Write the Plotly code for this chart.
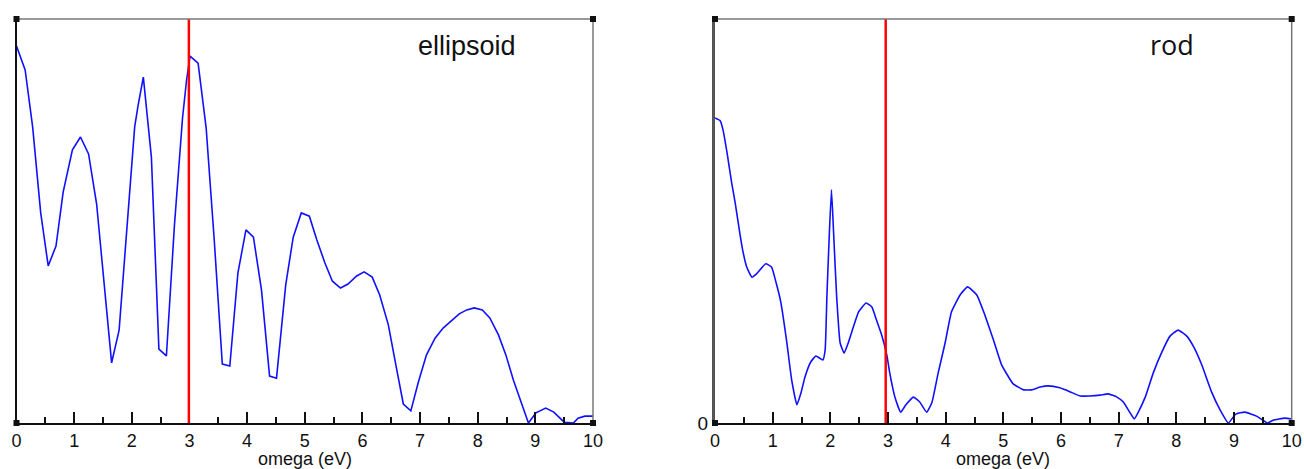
import plotly.graph_objects as go

# ---- data: ellipsoid ----
ell_x = [0, 0.15, 0.28, 0.42, 0.55, 0.685, 0.81, 0.97, 1.11, 1.25, 1.39, 1.52, 1.65, 1.78, 1.92,
         2.05, 2.11, 2.2, 2.34, 2.47, 2.6, 2.74, 2.88, 2.95, 3.01, 3.15, 3.29, 3.43, 3.57, 3.7,
         3.84, 3.98, 4.11, 4.25, 4.39, 4.51, 4.67, 4.8, 4.94, 5.08, 5.21, 5.35, 5.48, 5.62, 5.75,
         5.9, 6.03, 6.17, 6.3, 6.45, 6.58, 6.71, 6.84, 6.97, 7.11, 7.26, 7.4, 7.55, 7.68, 7.81,
         7.94, 8.08, 8.21, 8.36, 8.49, 8.62, 8.75, 8.88, 9.01, 9.18, 9.32, 9.5, 9.66, 9.74, 9.86, 10]
ell_y = [0.933, 0.874, 0.733, 0.520, 0.389, 0.438, 0.572, 0.676, 0.708, 0.666, 0.542, 0.347, 0.149,
         0.230, 0.483, 0.733, 0.787, 0.856, 0.658, 0.183, 0.166, 0.490, 0.755, 0.849, 0.908, 0.891,
         0.730, 0.453, 0.146, 0.141, 0.371, 0.478, 0.460, 0.329, 0.116, 0.111, 0.342, 0.460, 0.520,
         0.512, 0.453, 0.396, 0.351, 0.334, 0.344, 0.364, 0.374, 0.361, 0.317, 0.243, 0.144, 0.047,
         0.030, 0.101, 0.168, 0.210, 0.235, 0.255, 0.270, 0.280, 0.285, 0.280, 0.260, 0.218, 0.168,
         0.106, 0.052, 0.0, 0.025, 0.037, 0.027, 0.002, 0.0, 0.012, 0.017, 0.017]

# ---- data: rod ----
rod_x = [0, 0.09, 0.14, 0.21, 0.29, 0.35, 0.43, 0.48, 0.55, 0.64, 0.72, 0.88, 0.98, 1.06, 1.14,
         1.24, 1.33, 1.42, 1.49, 1.56, 1.66, 1.75, 1.87, 1.91, 1.94, 1.98, 2.02, 2.06, 2.11, 2.17,
         2.24, 2.31, 2.4, 2.49, 2.62, 2.72, 2.8, 2.89, 2.98, 3.03, 3.12, 3.22, 3.31, 3.44, 3.55,
         3.67, 3.76, 3.87, 3.99, 4.1, 4.25, 4.38, 4.54, 4.68, 4.83, 4.97, 5.17, 5.35, 5.49, 5.64,
         5.78, 5.98, 6.16, 6.33, 6.5, 6.68, 6.82, 6.97, 7.08, 7.19, 7.27, 7.34, 7.46, 7.6, 7.75,
         7.89, 8.03, 8.18, 8.31, 8.44, 8.61, 8.76, 8.9, 9.03, 9.19, 9.39, 9.58, 9.68, 9.88, 10]
rod_y = [0.755, 0.748, 0.725, 0.668, 0.594, 0.545, 0.470, 0.428, 0.386, 0.361, 0.369, 0.394, 0.386,
         0.347, 0.300, 0.205, 0.106, 0.045, 0.074, 0.114, 0.151, 0.166, 0.156, 0.181, 0.312, 0.460,
         0.577, 0.460, 0.312, 0.198, 0.173, 0.198, 0.238, 0.275, 0.297, 0.287, 0.255, 0.218, 0.168,
         0.124, 0.064, 0.027, 0.045, 0.064, 0.052, 0.027, 0.050, 0.124, 0.198, 0.275, 0.317, 0.337,
         0.317, 0.267, 0.205, 0.144, 0.097, 0.082, 0.082, 0.089, 0.092, 0.087, 0.077, 0.067, 0.067,
         0.069, 0.072, 0.064, 0.052, 0.027, 0.010, 0.027, 0.064, 0.124, 0.176, 0.215, 0.230, 0.215,
         0.186, 0.144, 0.077, 0.032, 0.0, 0.022, 0.027, 0.017, 0.0, 0.007, 0.012, 0.010]

marker_x = [2.99, 2.96]
labels = ["ellipsoid", "rod"]
x_title = "omega (eV)"
tick_vals = list(range(0, 11))
tick_text = [str(v) for v in tick_vals]

W, H = 1304, 469
dom1 = [16.5 / W, 593 / W]
dom2 = [715 / W, 1291.7 / W]
ydom = [(H - 423) / H, (H - 19) / H]

fig = go.Figure()
fig.add_trace(go.Scatter(x=ell_x, y=ell_y, mode="lines", line=dict(color="#1010ff", width=1.6),
                         xaxis="x", yaxis="y", showlegend=False, cliponaxis=True))
fig.add_trace(go.Scatter(x=rod_x, y=rod_y, mode="lines", line=dict(color="#1010ff", width=1.6, shape="spline", smoothing=0.4),
                         xaxis="x2", yaxis="y2", showlegend=False, cliponaxis=True))

FONT = "Liberation Sans, Arial, sans-serif"
font_tick = dict(family=FONT, size=18, color="#111")
xcommon = dict(range=[0, 10], tickvals=tick_vals, ticktext=tick_text, ticks="inside", ticklen=11,
               tickwidth=1.5, tickcolor="#111", showline=True, linecolor="#111", linewidth=2,
               showgrid=False, zeroline=False, tickfont=font_tick, automargin=False, ticklabelstandoff=0,
               minor=dict(dtick=0.5, ticks="inside", ticklen=6, tickwidth=1.5, tickcolor="#111", showgrid=False))

fig.update_layout(
    width=W, height=H, margin=dict(l=0, r=0, t=0, b=0, autoexpand=False),
    plot_bgcolor="white", paper_bgcolor="white",
    xaxis=dict(domain=dom1, anchor="y", **xcommon),
    xaxis2=dict(domain=dom2, anchor="y2", **xcommon),
    yaxis=dict(domain=ydom, range=[0, 1], anchor="x", showticklabels=False, ticks="", showgrid=False,
               zeroline=False, showline=True, linecolor="#111", linewidth=2, automargin=False),
    yaxis2=dict(domain=ydom, range=[0, 1], anchor="x2", tickvals=[0], ticktext=["0"], ticks="",
                tickfont=dict(family=FONT, size=19, color="#111"), showgrid=False, zeroline=False,
                showline=True, automargin=False, linecolor="#555", linewidth=3, ticklabelstandoff=0),
)

shapes = []
for xa, ya, mx in [("x", "y", marker_x[0]), ("x2", "y2", marker_x[1])]:
    # red vertical marker
    shapes.append(dict(type="line", xref=xa, yref=f"{ya} domain", x0=mx, x1=mx, y0=0, y1=1,
                       line=dict(color="#ff0000", width=2.5)))
    # grey top and right borders
    shapes.append(dict(type="line", xref=f"{xa} domain", yref=f"{ya} domain", x0=0, x1=1, y0=1, y1=1,
                       line=dict(color="#777", width=1.5)))
    shapes.append(dict(type="line", xref=f"{xa} domain", yref=f"{ya} domain", x0=1, x1=1, y0=0, y1=1,
                       line=dict(color="#777", width=1.5)))
    # corner squares
    for cx in (0, 1):
        for cy in (0, 1):
            shapes.append(dict(type="rect", xref=f"{xa} domain", yref=f"{ya} domain",
                               xsizemode="pixel", ysizemode="pixel", xanchor=cx, yanchor=cy,
                               x0=-3, x1=3, y0=-3, y1=3, fillcolor="#111", line=dict(width=0)))
fig.update_layout(shapes=shapes)

fig.add_annotation(x=7.81, y=0.933, xref="x", yref="y", text=labels[0], showarrow=False,
                   font=dict(family=FONT, size=27, color="#111"))
fig.add_annotation(x=7.92, y=0.936, xref="x2", yref="y2", text=labels[1], showarrow=False,
                   font=dict(family="Open Sans, sans-serif", size=27, color="#111"))
for xa in ("x domain", "x2 domain"):
    fig.add_annotation(x=0.5, y=0, xref=xa, yref="paper", text=x_title, showarrow=False,
                       yanchor="bottom", yshift=-2, font=dict(family=FONT, size=18, color="#111"))

fig.write_html("out.html")
